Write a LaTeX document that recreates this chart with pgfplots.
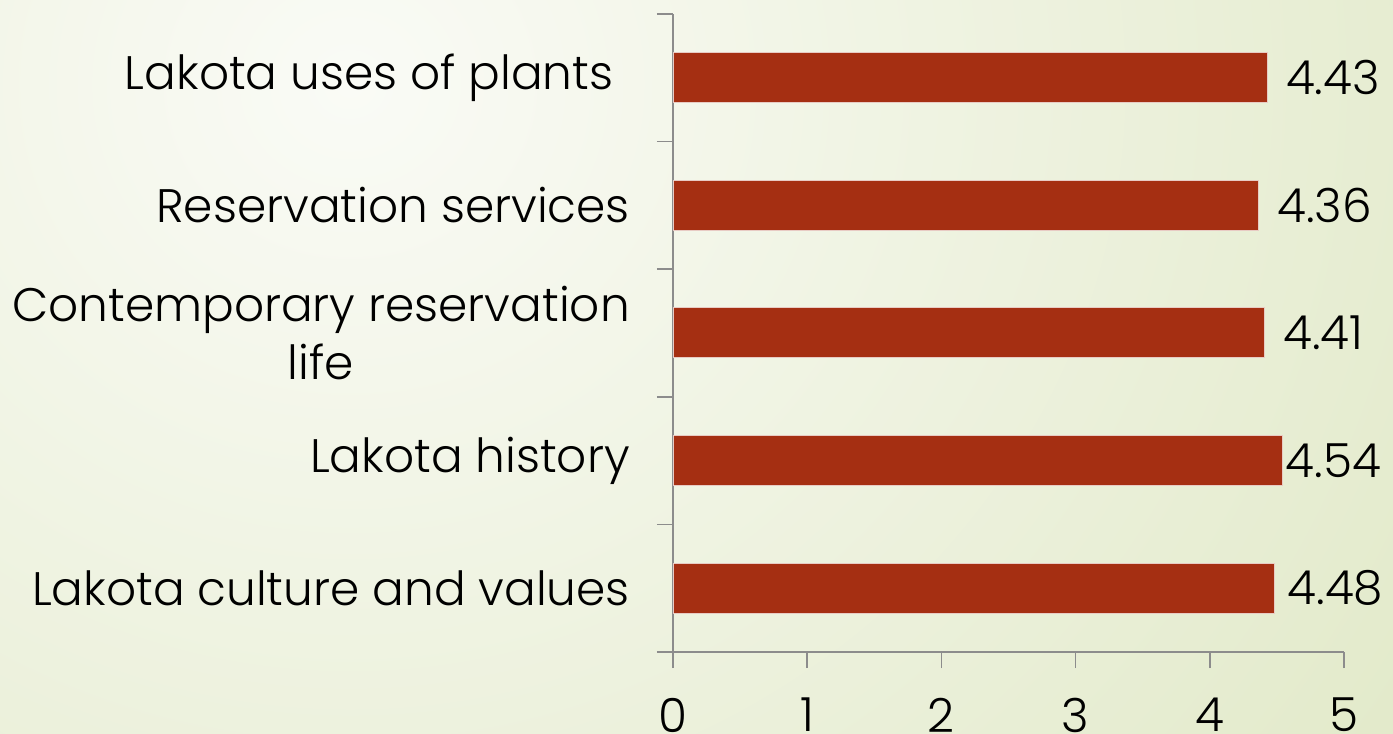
\documentclass[border=0pt]{standalone}
\usepackage{pgfplots}
\pgfplotsset{compat=1.18}
\usepackage{fontspec}
\setmainfont{Poppins Light}
\definecolor{barred}{HTML}{A52F12}
\definecolor{axgray}{HTML}{8C8C8C}
\definecolor{bgin}{HTML}{FAFBF6}
\definecolor{bgout}{HTML}{DDE6C0}
\newcommand{\bigf}{\fontsize{47bp}{58bp}\selectfont}
\pgfplotstableread{
val pos dx
4.48 0 13
4.54 1 3
4.41 2 18
4.36 3 19
4.43 4 18
}\bardata
\begin{document}
\begin{tikzpicture}
\useasboundingbox (0,0) rectangle (1393bp,734bp);
\begin{scope}
\clip (0,0) rectangle (1393bp,734bp);
\shade[inner color=bgin, outer color=bgout] (-1200bp,-800bp) rectangle (1900bp,2100bp);
\end{scope}
\begin{axis}[
  at={(673bp,82bp)}, anchor=south west,
  scale only axis, width=671bp, height=638bp,
  xbar, bar width=50bp,
  xmin=0, xmax=5, ymin=-0.5, ymax=4.5,
  axis lines*=left,
  axis line style={axgray, line width=1.5bp},
  xtick={0,1,2,3,4,5},
  ytick={0,1,2,3,4},
  yticklabels={Lakota culture and values, Lakota history, Contemporary reservation\\life, Reservation services, Lakota uses of plants\kern0.35em},
  minor ytick={-0.5,0.5,1.5,2.5,3.5,4.5},
  tick align=outside,
  major tick length=16bp, minor tick length=16bp,
  tick style={axgray, line width=1.5bp},
  major y tick style={draw=none},
  yticklabel style={font=\bigf, align=center, inner sep=0pt, xshift=-27bp},
  xticklabel style={font=\bigf, inner sep=0pt, yshift=-30bp},
  /pgf/number format/assume math mode=true,
  point meta=explicit,
  nodes near coords={\pgfmathprintnumber[fixed,fixed zerofill,precision=2]{\pgfplotspointmeta}},
  visualization depends on={\thisrow{dx} \as \dx},
  nodes near coords style={font=\bigf, anchor=west, inner sep=0pt, xshift=\dx bp, /pgf/number format/assume math mode=true},
]
\addplot[fill=barred, draw=white!75!barred, line width=1bp] table[x=val, y=pos, meta=val] {\bardata};
\end{axis}
\end{tikzpicture}
\end{document}
